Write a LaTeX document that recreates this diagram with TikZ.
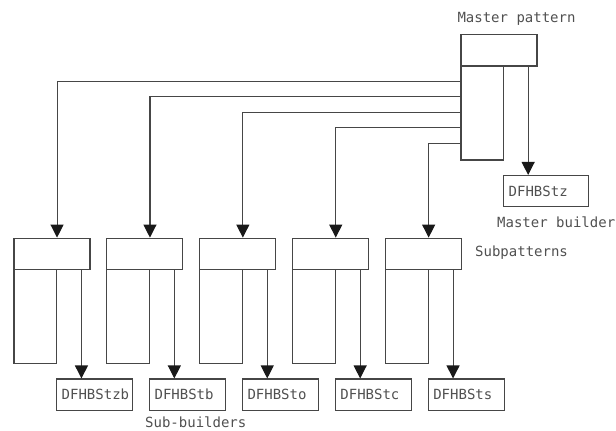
\documentclass[tikz,border=0pt]{standalone}
\usepackage{fontspec}
\setmonofont{DejaVu Sans Mono}
\usetikzlibrary{arrows.meta}
\definecolor{ink}{RGB}{70,70,70}
\definecolor{tip}{RGB}{25,25,25}
\definecolor{txt}{RGB}{80,80,80}
\begin{document}
\begin{tikzpicture}[x=1pt,y=-1pt,
  every node/.style={font=\ttfamily\fontsize{14}{16}\selectfont, text=txt},
  headbox/.style={draw=ink, line width=1.1pt, minimum width=76pt, minimum height=31.3pt, inner sep=0pt},
  bodybox/.style={draw=ink, line width=1.1pt, minimum width=42.5pt, minimum height=94pt, inner sep=0pt},
  buildbox/.style={draw=ink, line width=1.1pt, minimum height=31.3pt, inner xsep=5pt, inner ysep=0pt, align=left, text width=#1},
  buildbox/.default=66pt,
  link/.style={draw=ink, line width=1.1pt, -{Triangle[length=13pt,width=13pt,color=tip]}},
  caption/.style={anchor=base west, inner sep=0pt}]
\useasboundingbox (0,0) rectangle (616,431);

% master pattern: header, body and its builder
\node[headbox] (mh) at (499,50.35) {};
\node[bodybox] (mb) at (482.25,113) {};
\node[buildbox=74.6pt] (mu) at (546,191.15) {DFHBStz};
\draw[link] ([xshift=67.7pt]mh.south west) -- ([xshift=67.7pt]mh.south west |- mu.north);

% subpatterns with their sub-builders
\foreach \i/\name in {0/DFHBStzb,1/DFHBStb,2/DFHBSto,3/DFHBStc,4/DFHBSts}{
  \pgfmathsetmacro{\xo}{14+92.9*\i}
  \node[headbox] (h\i) at (\xo+38,253.8) {};
  \node[bodybox] (b\i) at (\xo+21.25,316.3) {};
  \node[buildbox] (u\i) at (\xo+80.7,394.65) {\name};
  \draw[link] ([xshift=68pt]h\i.south west) -- ([xshift=68pt]h\i.south west |- u\i.north);
  \pgfmathsetmacro{\dy}{15.6*(\i+1)}
  \draw[link] ([yshift=-\dy pt]mb.north west) -| (h\i.north -| b\i.north east);
}

% captions
\node[caption] (capmp) at (457.3,22.7) {Master pattern};
\node[caption] (capmb) at (497,227) {Master builder};
\node[caption] (capsp) at (475,256.7) {Subpatterns};
\node[caption] (capsb) at (145,427) {Sub-builders};
\end{tikzpicture}
\end{document}
